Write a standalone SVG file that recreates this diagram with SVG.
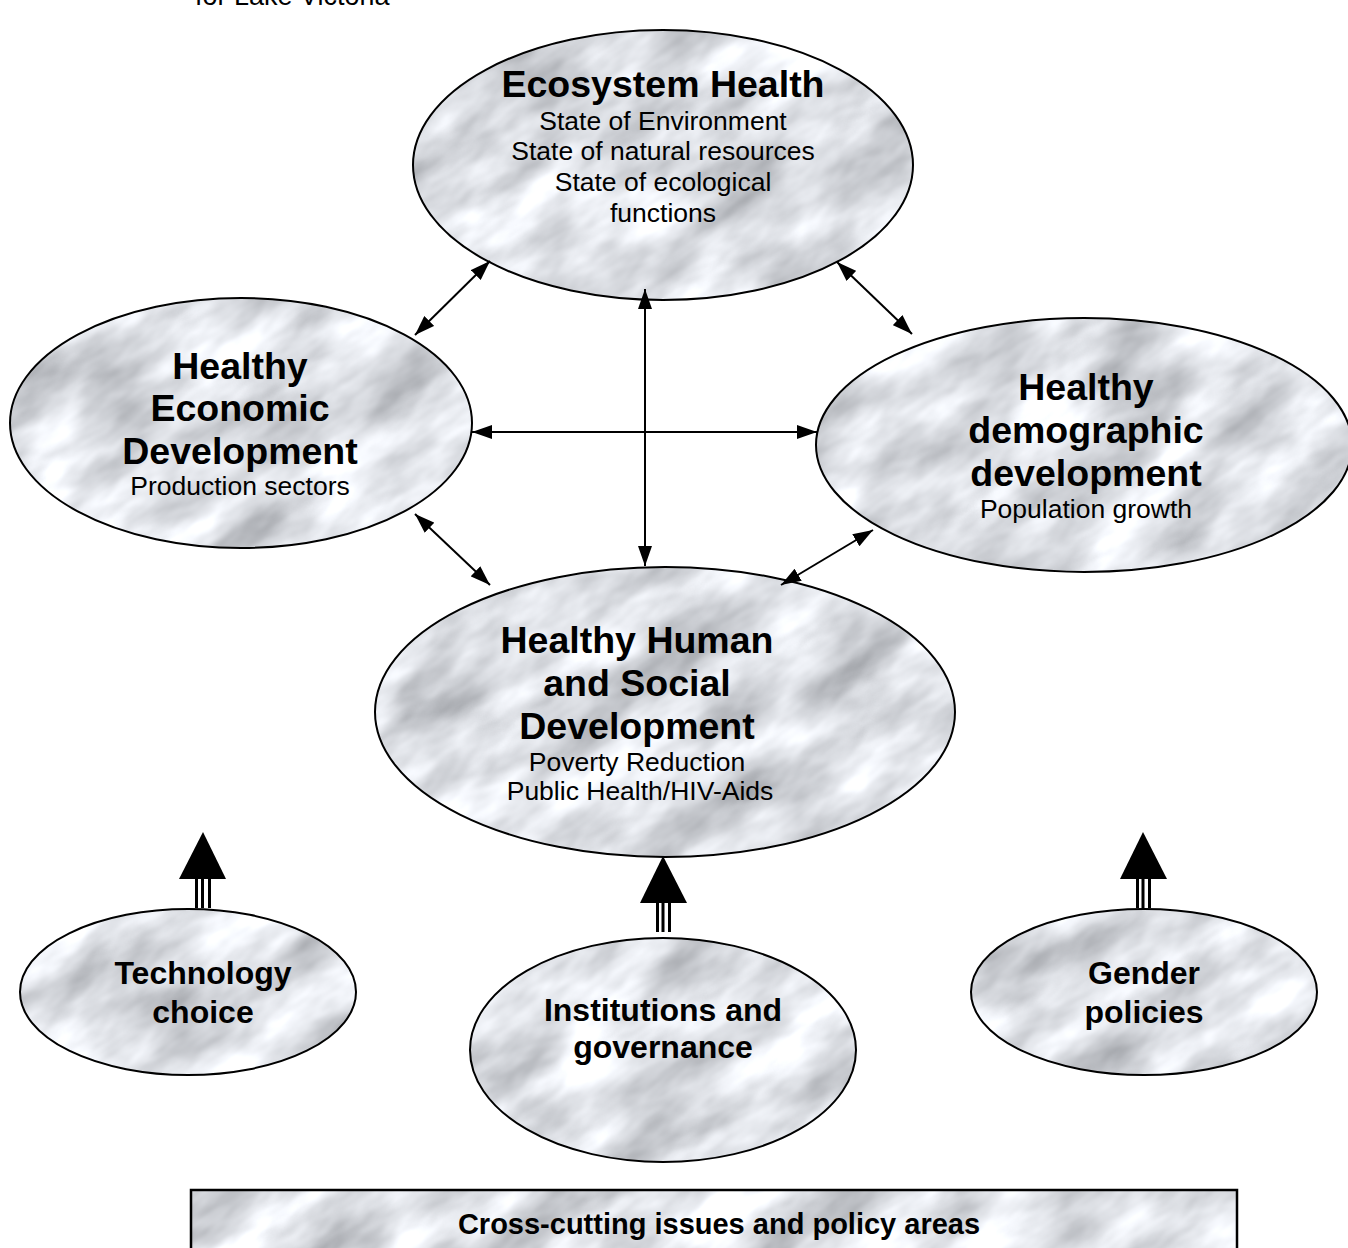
<svg xmlns="http://www.w3.org/2000/svg" width="1348" height="1248" viewBox="0 0 1348 1248">
<style>
.edge{fill:none;stroke:#000;stroke-width:2}
.t{font-family:"Liberation Sans",Arial,sans-serif;font-weight:bold;font-size:37.5px;text-anchor:middle;fill:#000}
.s{font-family:"Liberation Sans",Arial,sans-serif;font-size:26.5px;text-anchor:middle;fill:#000}
.b{font-family:"Liberation Sans",Arial,sans-serif;font-weight:bold;font-size:32px;text-anchor:middle;fill:#000}
.c{stroke:#000;stroke-width:2;fill:none;marker-start:url(#ah);marker-end:url(#ah)}
</style>
<defs>
<filter id="mf" x="0" y="0" width="1" height="1" filterUnits="objectBoundingBox" color-interpolation-filters="sRGB">
<feTurbulence type="fractalNoise" baseFrequency="0.009 0.02" numOctaves="4" seed="7"/>
<feColorMatrix type="matrix" values="0.6 0 0 0 0.57  0.6 0 0 0 0.58  0.6 0 0 0 0.6  0 0 0 0 1"/>
</filter>
<clipPath id="cEco"><ellipse cx="663" cy="165" rx="250" ry="135"/></clipPath>
<clipPath id="cEcon"><ellipse cx="241" cy="423" rx="231" ry="125"/></clipPath>
<clipPath id="cDemo"><ellipse cx="1084" cy="445" rx="268" ry="127"/></clipPath>
<clipPath id="cHum"><ellipse cx="665" cy="712" rx="290" ry="145"/></clipPath>
<clipPath id="cTech"><ellipse cx="188" cy="992" rx="168" ry="83"/></clipPath>
<clipPath id="cInst"><ellipse cx="663" cy="1050" rx="193" ry="112"/></clipPath>
<clipPath id="cGen"><ellipse cx="1144" cy="992" rx="173" ry="83"/></clipPath>
<clipPath id="cBox"><rect x="191" y="1190" width="1046" height="80"/></clipPath>
<marker id="ah" markerUnits="userSpaceOnUse" markerWidth="20" markerHeight="14" refX="20" refY="7" orient="auto-start-reverse" viewBox="0 0 20 14">
<path d="M0,0 L20,7 L0,14 z" fill="#000"/>
</marker>
</defs>

<text x="195" y="5" style="font-family:'Liberation Sans',Arial,sans-serif;font-size:27px">for Lake Victoria</text>

<g id="ecosystem">
<g clip-path="url(#cEco)"><rect x="403" y="-95" width="520" height="520" filter="url(#mf)" transform="rotate(-35 663 165)"/></g>
<ellipse class="edge" cx="663" cy="165" rx="250" ry="135"/>
<text class="t" x="663" y="97">Ecosystem Health</text>
<text class="s" x="663" y="130">State of Environment</text>
<text class="s" x="663" y="160">State of natural resources</text>
<text class="s" x="663" y="191">State of ecological</text>
<text class="s" x="663" y="222">functions</text>
</g>

<g id="economic">
<g clip-path="url(#cEcon)"><rect x="0" y="182" width="482" height="482" filter="url(#mf)" transform="rotate(-35 241 423)"/></g>
<ellipse class="edge" cx="241" cy="423" rx="231" ry="125"/>
<text class="t" x="240" y="379">Healthy</text>
<text class="t" x="240" y="421">Economic</text>
<text class="t" x="240" y="464">Development</text>
<text class="s" x="240" y="495">Production sectors</text>
</g>

<g id="demographic">
<g clip-path="url(#cDemo)"><rect x="806" y="167" width="556" height="556" filter="url(#mf)" transform="rotate(-35 1084 445)"/></g>
<ellipse class="edge" cx="1084" cy="445" rx="268" ry="127"/>
<text class="t" x="1086" y="400">Healthy</text>
<text class="t" x="1086" y="443">demographic</text>
<text class="t" x="1086" y="486">development</text>
<text class="s" x="1086" y="518">Population growth</text>
</g>

<g id="human">
<g clip-path="url(#cHum)"><rect x="365" y="412" width="600" height="600" filter="url(#mf)" transform="rotate(-35 665 712)"/></g>
<ellipse class="edge" cx="665" cy="712" rx="290" ry="145"/>
<text class="t" x="637" y="653">Healthy Human</text>
<text class="t" x="637" y="696">and Social</text>
<text class="t" x="637" y="739">Development</text>
<text class="s" x="637" y="771">Poverty Reduction</text>
<text class="s" x="640" y="800">Public Health/HIV-Aids</text>
</g>

<g id="technology">
<g clip-path="url(#cTech)"><rect x="10" y="814" width="356" height="356" filter="url(#mf)" transform="rotate(-35 188 992)"/></g>
<ellipse class="edge" cx="188" cy="992" rx="168" ry="83"/>
<text class="b" x="203" y="984">Technology</text>
<text class="b" x="203" y="1023">choice</text>
</g>

<g id="institutions">
<g clip-path="url(#cInst)"><rect x="460" y="847" width="406" height="406" filter="url(#mf)" transform="rotate(-35 663 1050)"/></g>
<ellipse class="edge" cx="663" cy="1050" rx="193" ry="112"/>
<text class="b" x="663" y="1021">Institutions and</text>
<text class="b" x="663" y="1058">governance</text>
</g>

<g id="gender">
<g clip-path="url(#cGen)"><rect x="961" y="809" width="366" height="366" filter="url(#mf)" transform="rotate(-35 1144 992)"/></g>
<ellipse class="edge" cx="1144" cy="992" rx="173" ry="83"/>
<text class="b" x="1144" y="984">Gender</text>
<text class="b" x="1144" y="1023">policies</text>
</g>

<g id="crosscutting">
<g clip-path="url(#cBox)"><rect x="254" y="880" width="930" height="700" filter="url(#mf)" transform="rotate(-35 719 1230)"/></g>
<rect x="191" y="1190" width="1046" height="80" fill="none" stroke="#000" stroke-width="2.5"/>
<text class="b" x="719" y="1234" style="font-size:29px">Cross-cutting issues and policy areas</text>
</g>

<g id="connectors">
<line class="c" x1="490" y1="261" x2="415" y2="335"/>
<line class="c" x1="837" y1="262" x2="912" y2="334"/>
<line class="c" x1="645" y1="289" x2="645" y2="566"/>
<line class="c" x1="472" y1="432" x2="817" y2="432"/>
<line class="c" x1="415" y1="514" x2="490" y2="585"/>
<line class="c" x1="781" y1="585" x2="873" y2="530"/>
<g id="arrow-tech" fill="#000">
<polygon points="203,832 226,879 179,879"/>
<rect x="195" y="879" width="3" height="29"/>
<rect x="201" y="879" width="3" height="29"/>
<rect x="208" y="879" width="3" height="29"/>
</g>
<g id="arrow-inst" fill="#000">
<polygon points="663,856 687,903 640,903"/>
<rect x="656" y="903" width="3" height="29"/>
<rect x="661.5" y="903" width="3" height="29"/>
<rect x="668" y="903" width="3" height="29"/>
</g>
<g id="arrow-gender" fill="#000">
<polygon points="1143,832 1167,879 1120,879"/>
<rect x="1136" y="879" width="3" height="29"/>
<rect x="1141.5" y="879" width="3" height="29"/>
<rect x="1148" y="879" width="3" height="29"/>
</g>
</g>
</svg>
